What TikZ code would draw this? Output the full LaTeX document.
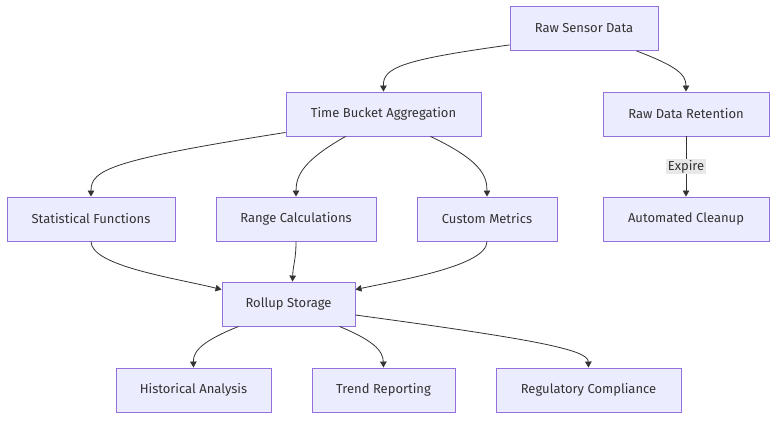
\documentclass[tikz,border=0pt]{standalone}
\usepackage{fontspec}
\setmainfont{Fira Sans}
\usetikzlibrary{arrows.meta}
\definecolor{nodefill}{HTML}{ECECFF}
\definecolor{nodeline}{HTML}{9370DB}
\definecolor{txt}{HTML}{333333}
\definecolor{lblbg}{HTML}{E8E8E8}
\tikzset{
  box/.style={draw=nodeline, fill=nodefill, line width=0.9pt, text=txt, font=\fontsize{13}{15}\selectfont, minimum height=44pt, inner sep=0pt},
  conn/.style={draw=txt, line width=0.8pt, -{Triangle[length=6pt,width=6.5pt]}},
  lbl/.style={fill=lblbg, text=txt, font=\fontsize{13}{15}\selectfont, inner sep=1.5pt}
}
\begin{document}
\begin{tikzpicture}[x=1pt,y=-1pt]
\useasboundingbox (0,0) rectangle (784,424);
\fill[white] (0,0) rectangle (784,424);
\node[box, minimum width=148pt] (raw) at (584,28.5) {Raw Sensor Data};
\node[box, minimum width=195pt] (tba) at (383.5,114) {Time Bucket Aggregation};
\node[box, minimum width=166pt] (rdr) at (686,114) {Raw Data Retention};
\node[box, minimum width=168pt] (sf) at (91,219) {Statistical Functions};
\node[box, minimum width=160pt] (rc) at (296,219) {Range Calculations};
\node[box, minimum width=140pt] (cm) at (487,219) {Custom Metrics};
\node[box, minimum width=166pt] (ac) at (686,219) {Automated Cleanup};
\node[box, minimum width=133pt] (rs) at (288.5,304) {Rollup Storage};
\node[box, minimum width=155pt] (ha) at (193.5,390) {Historical Analysis};
\node[box, minimum width=143pt] (tr) at (383.5,390) {Trend Reporting};
\node[box, minimum width=185pt] (rcomp) at (588.5,390) {Regulatory Compliance};

\draw[conn] ([yshift=6pt]raw.south west) .. controls (400,60) and (383,68) .. (tba.north);
\draw[conn] ([xshift=127pt]raw.south west) .. controls (676,66) and (686,74) .. (rdr.north);
\draw[conn] ([yshift=4pt]tba.south west) .. controls (110,160) and (91,170) .. (sf.north);
\draw[conn] ([xshift=60pt]tba.south west) .. controls (304,160) and (296,175) .. (rc.north);
\draw[conn] ([xshift=-51pt]tba.south east) .. controls (480,160) and (487,175) .. (cm.north);
\draw[conn] (rdr.south) -- node[lbl] (exp) {Expire} (ac.north);
\draw[conn] (sf.south) .. controls (91,266) and (175,278) .. ([yshift=-8pt]rs.north west);
\draw[conn] (rc.south) .. controls (296,260) and (293,265) .. ([xshift=4pt]rs.north);
\draw[conn] (cm.south) .. controls (487,266) and (400,280) .. ([yshift=-8pt]rs.north east);
\draw[conn] ([xshift=17pt]rs.south west) .. controls (205,340) and (193,350) .. (ha.north);
\draw[conn] ([xshift=-16pt]rs.south east) .. controls (372,340) and (383,350) .. (tr.north);
\draw[conn] ([yshift=-11pt]rs.east) .. controls (540,340) and (588,350) .. (rcomp.north);
\end{tikzpicture}
\end{document}
